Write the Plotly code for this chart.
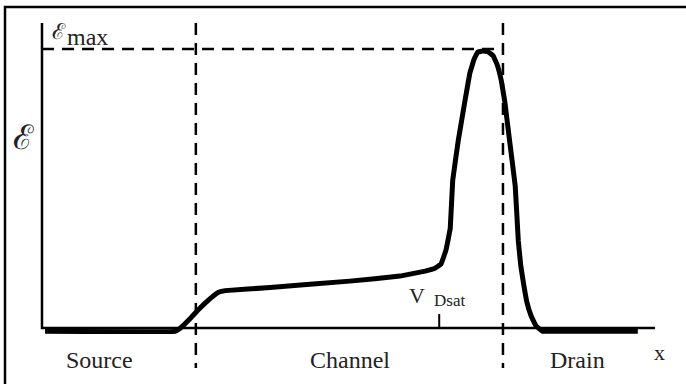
import plotly.graph_objects as go

# Electric field profile along the channel (x in % of device length, E normalised to Emax)
x_pos = [0.5, 21.7, 22.5, 24.1, 25.3, 26.6, 27.9, 28.9, 29.9, 37.2, 50.2, 58.4, 62.5, 64.1,
         65.1, 65.9, 66.6, 67.0, 67.9, 69.0, 69.8, 70.5, 71.1, 71.9, 72.8, 73.6, 74.2, 74.9,
         75.5, 76.3, 77.2, 77.7, 78.1, 78.6, 79.1, 79.8, 80.6, 81.6, 82.5, 97.2]
e_field = [-0.012, -0.012, -0.002, 0.032, 0.061, 0.089, 0.114, 0.129, 0.134, 0.145, 0.168,
           0.186, 0.204, 0.214, 0.229, 0.279, 0.357, 0.529, 0.671, 0.814, 0.914, 0.964,
           0.989, 0.993, 0.990, 0.976, 0.947, 0.890, 0.811, 0.668, 0.509, 0.313, 0.224,
           0.154, 0.093, 0.043, 0.007, -0.011, -0.012, -0.012]

source_edge = 25.1
drain_edge = 75.2
v_dsat_x = 64.8
e_max = 1.0
x_axis_end = 100.0
y_axis_top = 1.093
dash_bottom = -0.143

region_labels = ["Source", "Channel", "Drain"]
region_x = [9.3, 50.3, 87.4]

serif = "Liberation Serif, Times New Roman, serif"
black = "#000000"

fig = go.Figure()

# axes
fig.add_trace(go.Scatter(x=[0, 0, x_axis_end], y=[y_axis_top, 0, 0], mode="lines",
                         line=dict(color=black, width=2.5), hoverinfo="skip"))
# V_Dsat tick
fig.add_trace(go.Scatter(x=[v_dsat_x, v_dsat_x], y=[0, 0.05], mode="lines",
                         line=dict(color=black, width=2), hoverinfo="skip"))
# dashed guides
for xe in (source_edge, drain_edge):
    fig.add_trace(go.Scatter(x=[xe, xe], y=[y_axis_top, dash_bottom], mode="lines",
                             line=dict(color=black, width=2.5, dash="12px,8px"), hoverinfo="skip"))
fig.add_trace(go.Scatter(x=[0, drain_edge], y=[e_max, e_max], mode="lines",
                         line=dict(color=black, width=2.5, dash="12px,8px"), hoverinfo="skip"))
# field curve
fig.add_trace(go.Scatter(x=x_pos, y=e_field, mode="lines",
                         line=dict(color=black, width=5, shape="spline", smoothing=0.15),
                         hoverinfo="skip"))

ann = []
for t, xx in zip(region_labels, region_x):
    ann.append(dict(x=xx, y=-0.113, text=t, font=dict(family=serif, size=24, color="#222")))
ann.append(dict(x=100.7, y=-0.086, text="x", font=dict(family=serif, size=22, color="#222")))
ann.append(dict(x=61.2, y=0.118, text="V", font=dict(family=serif, size=22, color="#222")))
ann.append(dict(x=66.4, y=0.097, text="Dsat", font=dict(family=serif, size=17, color="#222")))
ann.append(dict(x=-3.0, y=0.683, text="ℰ", font=dict(family="DejaVu Serif, serif", size=34, color="#222")))
ann.append(dict(x=2.7, y=1.062, text="ℰ", font=dict(family="DejaVu Serif, serif", size=22, color="#222")))
ann.append(dict(x=7.5, y=1.043, text="max", font=dict(family=serif, size=24, color="#222")))
for a in ann:
    a.update(xref="x", yref="y", showarrow=False, xanchor="center", yanchor="middle")

fig.update_layout(
    width=686, height=384, margin=dict(l=0, r=0, t=0, b=0),
    paper_bgcolor="white", plot_bgcolor="white", showlegend=False,
    xaxis=dict(range=[-6.85, 105.06], visible=False, fixedrange=True),
    yaxis=dict(range=[-0.2007, 1.1756], visible=False, fixedrange=True),
    annotations=ann,
    shapes=[dict(type="rect", xref="paper", yref="paper", x0=0.0073, x1=1.02,
                 y0=-0.02, y1=0.982, line=dict(color=black, width=2.5))],
)

fig.write_html("out.html", config={"displayModeBar": False, "staticPlot": True},
               post_script="document.body.style.margin='0';document.body.style.overflow='hidden';")
